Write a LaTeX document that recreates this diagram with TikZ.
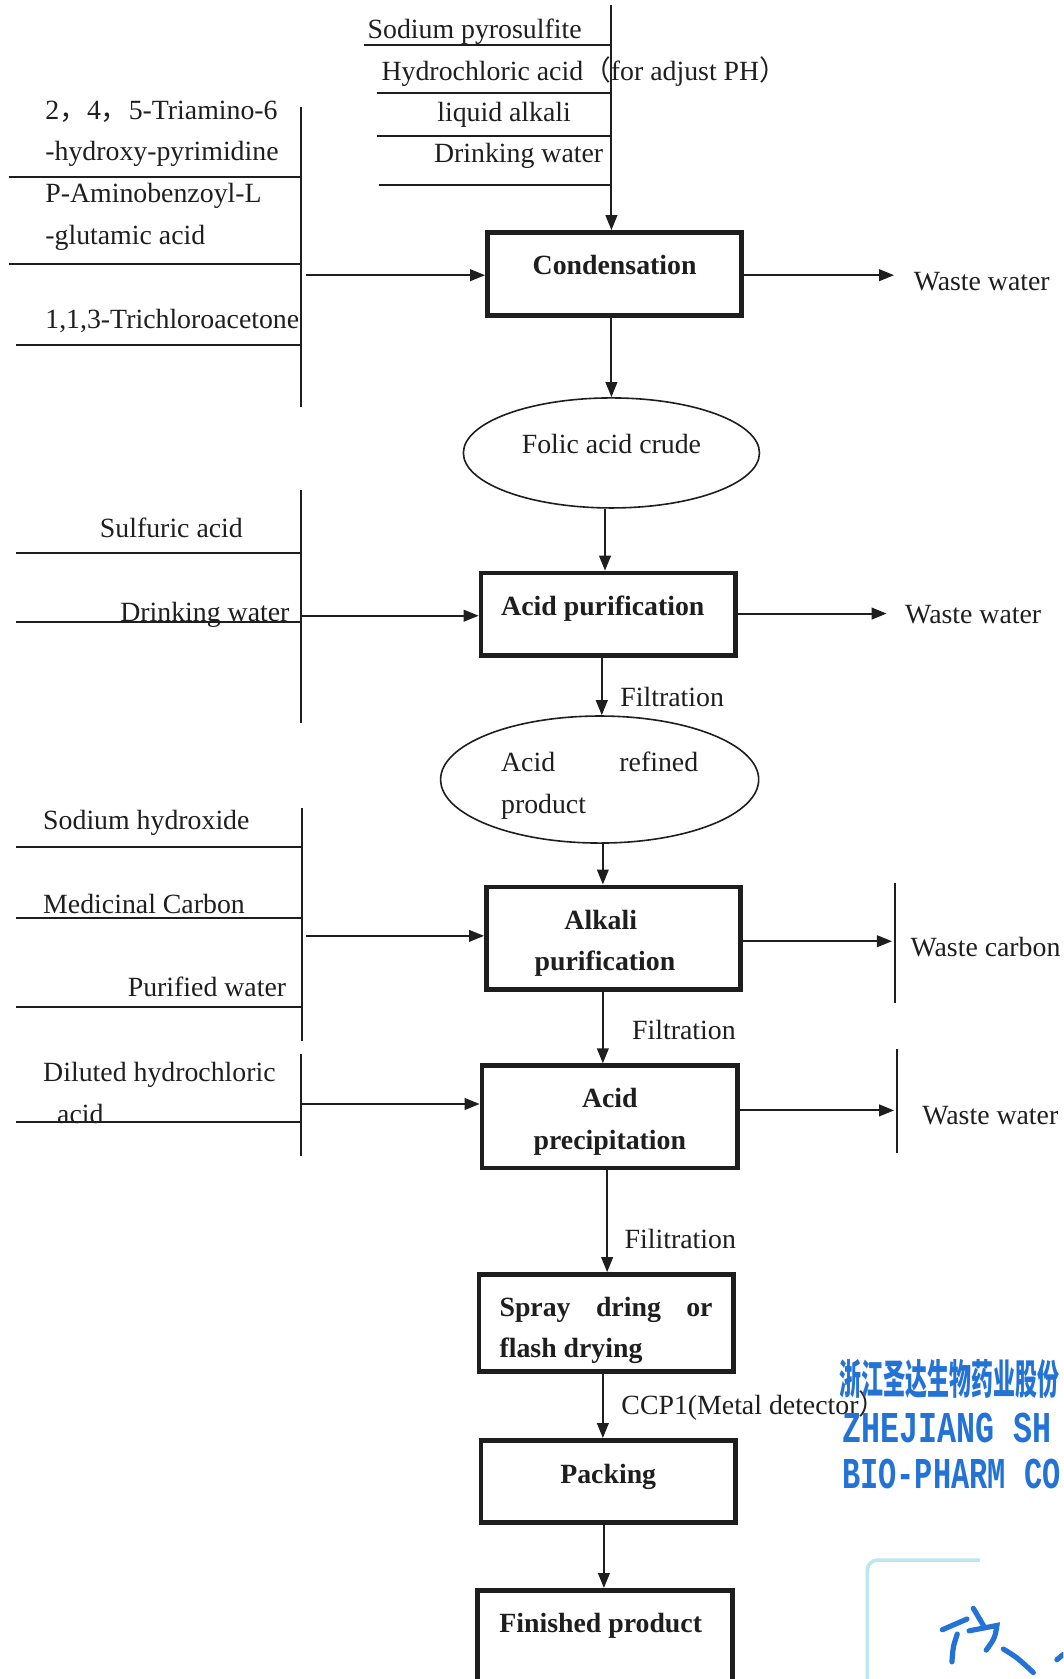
\documentclass[tikz,border=0pt]{standalone}
\usepackage{fontspec}
\setmainfont{Liberation Serif}
\newfontfamily\cjk{Noto Sans CJK SC}
\newfontfamily\stampmono{Liberation Mono}
\usetikzlibrary{shapes.geometric,arrows.meta}
\definecolor{ink}{RGB}{30,30,30}
\definecolor{stampblue}{RGB}{35,115,215}
\definecolor{stampfaint}{RGB}{190,230,240}
\newcommand\lblfont{\fontsize{13.9}{20.9}\selectfont}
\tikzset{
  every node/.style={inner sep=0pt, text=ink},
  lbl/.style={font=\lblfont, anchor=mid west, align=left, yshift=-2pt},
  mlbl/.style={font=\lblfont, anchor=west, align=left, yshift=-1pt},
  procbox/.style={draw=ink, line width=2.4pt, font=\lblfont\bfseries, align=center,
                  minimum width=127.1pt},
  oval/.style={draw=ink, ellipse, line width=0.8pt, font=\lblfont, align=left},
  rail/.style={draw=ink, line width=1pt},
  arr/.style={draw=ink, line width=1pt, -{Triangle[length=7.5pt,width=5.8pt]}},
  stampcn/.style={text=stampblue, anchor=mid west, font=\cjk\bfseries\fontsize{20.5}{20.5}\selectfont},
  stampen/.style={text=stampblue, anchor=mid west, font=\stampmono\bfseries\fontsize{22}{22}\selectfont},
  sig/.style={draw=stampblue, line width=2.6pt, line cap=round},
}
\begin{document}
\begin{tikzpicture}[x=0.53525pt, y=-0.53525pt]
\useasboundingbox (0,0) rectangle (993,1568);
\clip (0,0) rectangle (993,1568);

% ---------- process nodes ----------
\node[procbox, minimum height=41.5pt, text depth=8.9pt] (cond) at (574,256) {Condensation};
\node[oval, minimum width=148pt, minimum height=55pt, text depth=8.9pt] (ell1) at (571,423) {Folic acid crude};
\node[procbox, minimum height=41pt, text depth=8.3pt] (apur) at (568,573.5) {Acid purification\hspace*{5.4pt}};
\node[oval, minimum width=159pt, minimum height=63.5pt] (ell2) at (560,728) {\rule{0pt}{15.9pt}\makebox[98.5pt][s]{Acid refined}\\product};
\node[procbox, minimum height=51.1pt] (alk) at (573,876) {\rule{0pt}{14.9pt}Alkali\hspace*{12.8pt}\\purification\hspace*{8.6pt}};
\node[procbox, minimum width=127.7pt, minimum height=51.1pt] (prec) at (569.5,1043) {\rule{0pt}{14.9pt}Acid\\precipitation};
\node[procbox, minimum height=48.4pt, align=left] (spray) at (566,1235.5) {\rule{0pt}{17pt}\makebox[106.5pt][s]{Spray dring or}\\flash drying};
\node[procbox, minimum height=41pt, text depth=7.3pt] (pack) at (568,1383.5) {Packing};
\node[procbox, minimum height=61.8pt, text depth=29.3pt] (fin) at (565,1543) {Finished product\hspace*{4.3pt}};

% ---------- x positions of vertical flow ----------
\coordinate (xa) at (571,0);
\coordinate (xb) at (565,0);
\coordinate (xc) at (562,0);
\coordinate (xd) at (563,0);
\coordinate (xe) at (567,0);
\coordinate (xf) at (564,0);

% ---------- top input group ----------
\coordinate (topin) at (571,5);
\draw[rail] (340,42) -- (571,42);
\draw[rail] (352,87) -- (571,87);
\draw[rail] (352,127) -- (571,127);
\draw[rail] (354,173) -- (571,173);
\node[lbl] (l1) at (343,28) {Sodium pyrosulfite};
\node[lbl] (l2) at (356,67) {Hydrochloric acid{\cjk （}for adjust PH{\cjk ）}};
\node[lbl] (l3) at (408,105) {liquid alkali};
\node[lbl] (l4) at (405,144) {Drinking water};
\draw[arr] (topin) -- (topin |- cond.north);

% ---------- left input group 1 ----------
\draw[rail] (281,100) -- (281,380);
\draw[rail] (8,165) -- (281,165);
\draw[rail] (8,247) -- (281,247);
\draw[rail] (15,322) -- (281,322);
\node[mlbl] (l5) at (42,123) {2{\cjk ，}4{\cjk ，}5-Triamino-6\\-hydroxy-pyrimidine};
\node[mlbl] (l6) at (42,201) {P-Aminobenzoyl-L\\-glutamic acid};
\node[lbl] (l7) at (42,299) {1,1,3-Trichloroacetone};
\coordinate (in1) at (286,257);
\draw[arr] (in1) -- (in1 -| cond.west);

% ---------- output 1 ----------
\coordinate (o1) at (835,257);
\node[lbl] (w1) at (853,263) {Waste water};
\draw[arr] (cond.east |- o1) -- (o1);

% ---------- flow 1 ----------
\draw[arr] (cond.south -| xa) -- (ell1.north -| xa);
\draw[arr] (ell1.south -| xb) -- (apur.north -| xb);

% ---------- left input group 2 ----------
\draw[rail] (281,458) -- (281,675);
\draw[rail] (15,516) -- (281,516);
\draw[rail] (15,581) -- (281,581);
\node[lbl] (l8) at (93,494) {Sulfuric acid};
\node[lbl] (l9) at (112,572) {Drinking water};
\coordinate (in2) at (281,575);
\draw[arr] (in2) -- (in2 -| apur.west);

\coordinate (o2) at (828,573);
\node[lbl] (w2) at (845,574) {Waste water};
\draw[arr] (apur.east |- o2) -- (o2);

\draw[arr] (apur.south -| xc) -- (ell2.north -| xc);
\node[lbl] (f1) at (579,652) {Filtration};
\draw[arr] (ell2.south -| xd) -- (alk.north -| xd);

% ---------- left input group 3 ----------
\draw[rail] (282,755) -- (282,972);
\draw[rail] (15,791) -- (282,791);
\draw[rail] (15,857) -- (282,857);
\draw[rail] (15,940) -- (282,940);
\node[lbl] (l10) at (40,767) {Sodium hydroxide};
\node[lbl] (l11) at (40,845) {Medicinal Carbon};
\node[lbl] (l12) at (119,923) {Purified water};
\coordinate (in3) at (286,874);
\draw[arr] (in3) -- (in3 -| alk.west);

\coordinate (o3) at (833,879);
\draw[arr] (alk.east |- o3) -- (o3);
\draw[rail] (836,825) -- (836,937);
\node[lbl] (w3) at (850,885) {Waste carbon};

\draw[arr] (alk.south -| xd) -- (prec.north -| xd);
\node[lbl] (f2) at (590,963) {Filtration};

% ---------- left input group 4 ----------
\draw[rail] (281,984) -- (281,1080);
\draw[rail] (15,1048) -- (281,1048);
\node[mlbl] (l13) at (40,1019) {Diluted hydrochloric\\\hspace*{7pt}acid};
\coordinate (in4) at (281,1031);
\draw[arr] (in4) -- (in4 -| prec.west);

\coordinate (o4) at (835,1037);
\draw[arr] (prec.east |- o4) -- (o4);
\draw[rail] (838,980) -- (838,1077);
\node[lbl] (w4) at (861,1042) {Waste water};

% ---------- lower flow ----------
\draw[arr] (prec.south -| xe) -- (spray.north -| xe);
\node[lbl] (f3) at (583,1158) {Filitration};
\draw[arr] (spray.south -| xd) -- (pack.north -| xd);
\node[lbl] (ccp) at (580,1313) {CCP1(Metal detector{\cjk ）}};
\draw[arr] (pack.south -| xf) -- (fin.north -| xf);

% ---------- company stamp (partly cut off in the original) ----------
\node[stampcn] (s1) at (784,1298) {\scalebox{0.535}[1]{浙江圣达生物药业股份}};
\node[stampen] (s2) at (786,1343) {\scalebox{0.72}[1]{ZHEJIANG SH}};
\node[stampen] (s3) at (786,1386) {\scalebox{0.69}[1]{BIO-PHARM CO}};
\draw[draw=stampfaint, line width=1.8pt] (810,1568) -- (810,1466) to[out=90,in=180] (820,1457) -- (915,1457);
\draw[sig] (880,1522) -- (903,1512);
\draw[sig] (894,1526) .. controls (890,1538) .. (889,1552);
\draw[sig] (909,1502) -- (919,1519);
\draw[sig] (905,1523) -- (931,1518) .. controls (929,1530) .. (921,1541);
\draw[sig] (937,1540) .. controls (950,1548) .. (965,1562);
\draw[sig] (987,1550) -- (993,1545);
\end{tikzpicture}
\end{document}
